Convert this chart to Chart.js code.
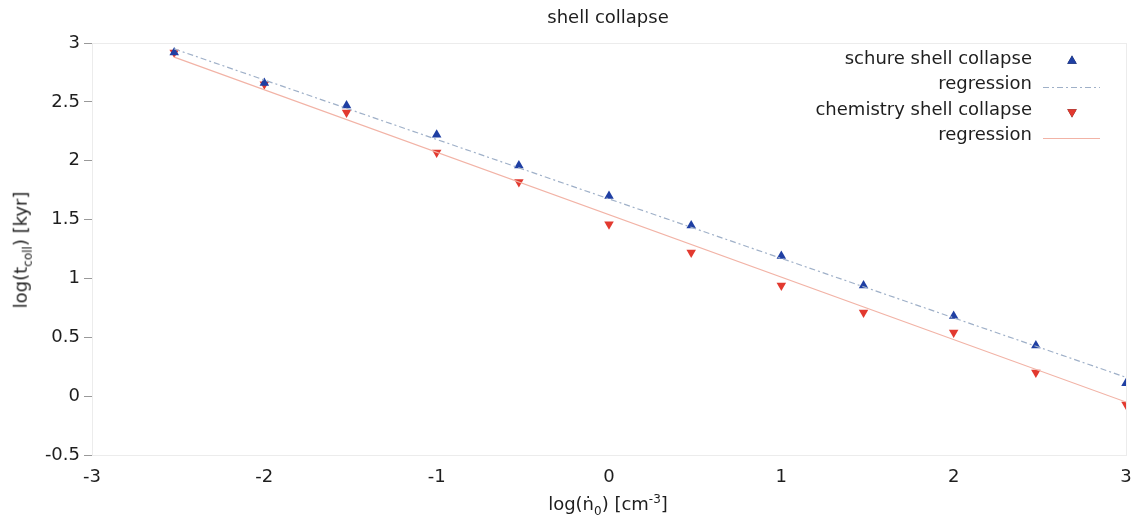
<!DOCTYPE html>
<html>
<head>
<meta charset="utf-8">
<script src="https://cdn.jsdelivr.net/npm/chart.js@4/dist/chart.umd.min.js"></script>
<style>
  body { margin: 0; background: #fff; }
  #wrap { position: relative; width: 1137px; height: 522px; font-family: "DejaVu Sans", sans-serif; color: #1e1e1e; }
  .lbl { position: absolute; font-size: 18px; white-space: nowrap; }
  sub, sup { font-size: 12px; }
</style>
</head>
<body>
<div id="wrap">
  <canvas id="plot" width="1137" height="522"></canvas>
  <div class="lbl" id="title" style="left:608px; top:6px; transform:translateX(-50%);">shell collapse</div>
  <div class="lbl" id="xt" style="left:608px; top:492px; transform:translateX(-50%);">log(ṅ<sub>0</sub>) [cm<sup>-3</sup>]</div>
  <div class="lbl" id="yt" style="left:22px; top:250px; transform:translate(-50%,-50%) rotate(-90deg);">log(t<sub>coll</sub>) [kyr]</div>
</div>
<script>
// log densities of the runs
const logN = [-2.523, -2, -1.523, -1, -0.523, 0, 0.477, 1, 1.477, 2, 2.477, 3];
const schure = [2.92, 2.66, 2.47, 2.22, 1.96, 1.70, 1.45, 1.19, 0.94, 0.68, 0.43, 0.11];
const chemistry = [2.92, 2.65, 2.41, 2.07, 1.82, 1.46, 1.22, 0.94, 0.71, 0.54, 0.20, -0.07];
// regression end points
const regX = [-2.523, 3];
const schureReg = [2.95, 0.16];
const chemReg = [2.88, -0.05];
const xTicks = [-3, -2, -1, 0, 1, 2, 3];
const yTicks = [-0.5, 0, 0.5, 1, 1.5, 2, 2.5, 3];

const blue = "#1f3fa3";
const red = "#e2392f";
const pts = (xs, ys) => xs.map((x, i) => ({ x: x, y: ys[i] }));

const legendItems = [
  { text: "schure shell collapse", type: "point", color: blue, rot: 0 },
  { text: "regression", type: "line", color: "#9fb0c8", dash: [6, 3, 2, 3] },
  { text: "chemistry shell collapse", type: "point", color: red, rot: 180 },
  { text: "regression", type: "line", color: "#f2b3a6", dash: [] }
];

const legendPlugin = {
  id: "sideLegend",
  afterDatasetsDraw(chart) {
    const ctx = chart.ctx;
    ctx.save();
    ctx.font = "18px 'DejaVu Sans'";
    ctx.fillStyle = "#1e1e1e";
    ctx.textAlign = "right";
    ctx.textBaseline = "middle";
    legendItems.forEach((it, i) => {
      const y = 59 + i * 25.5;
      ctx.fillText(it.text, 1032, y);
      if (it.type === "point") {
        Chart.helpers.drawPoint(ctx, { pointStyle: "triangle", radius: 5.5, rotation: it.rot }, 1072, y + 2);
        ctx.fillStyle = it.color;
        ctx.fill();
        ctx.fillStyle = "#1e1e1e";
      } else {
        ctx.strokeStyle = it.color;
        ctx.lineWidth = 1.2;
        ctx.setLineDash(it.dash);
        ctx.beginPath();
        ctx.moveTo(1043, y + 3);
        ctx.lineTo(1100, y + 3);
        ctx.stroke();
        ctx.setLineDash([]);
      }
    });
    ctx.restore();
  }
};

const framePlugin = {
  id: "frame",
  beforeDatasetsDraw(chart) {
    const a = chart.chartArea, ctx = chart.ctx;
    ctx.save();
    ctx.strokeStyle = "#ececec";
    ctx.lineWidth = 1;
    ctx.strokeRect(a.left + 0.5, a.top + 0.5, a.right - a.left, a.bottom - a.top);
    ctx.restore();
  }
};

Chart.defaults.font.family = "'DejaVu Sans', sans-serif";
Chart.defaults.font.size = 18;
Chart.defaults.color = "#1e1e1e";

new Chart(document.getElementById("plot"), {
  type: "scatter",
  data: {
    datasets: [
      { label: "regression", data: pts(regX, schureReg), showLine: true, borderColor: "#9fb0c8", borderWidth: 1.2, borderDash: [6, 3, 2, 3], pointRadius: 0 },
      { label: "regression", data: pts(regX, chemReg), showLine: true, borderColor: "#f2b3a6", borderWidth: 1.2, pointRadius: 0 },
      { label: "schure shell collapse", data: pts(logN, schure), pointStyle: "triangle", pointRadius: 5.5, backgroundColor: blue, borderColor: blue, borderWidth: 0 },
      { label: "chemistry shell collapse", data: pts(logN, chemistry), pointStyle: "triangle", rotation: 180, pointRadius: 5.5, backgroundColor: red, borderColor: red, borderWidth: 0 }
    ]
  },
  options: {
    responsive: false,
    animation: false,
    layout: { padding: { top: 43, right: 11, left: 0, bottom: 0 } },
    plugins: {
      legend: { display: false },
      tooltip: { enabled: false },
      title: { display: false }
    },
    scales: {
      x: {
        type: "linear", min: -3, max: 3,
        afterBuildTicks: s => { s.ticks = xTicks.map(v => ({ value: v })); },
        grid: { display: false },
        border: { display: false },
        ticks: { padding: 4, maxRotation: 0, callback: v => String(v) },
        afterFit: s => { s.height = 67; }
      },
      y: {
        type: "linear", min: -0.5, max: 3,
        afterBuildTicks: s => { s.ticks = yTicks.map(v => ({ value: v })); },
        grid: { drawOnChartArea: false, color: "#999", tickLength: 8 },
        border: { display: false },
        ticks: { padding: 4, callback: v => String(v) },
        afterFit: s => { s.width = 92; }
      }
    }
  },
  plugins: [framePlugin, legendPlugin]
});
</script>
</body>
</html>
